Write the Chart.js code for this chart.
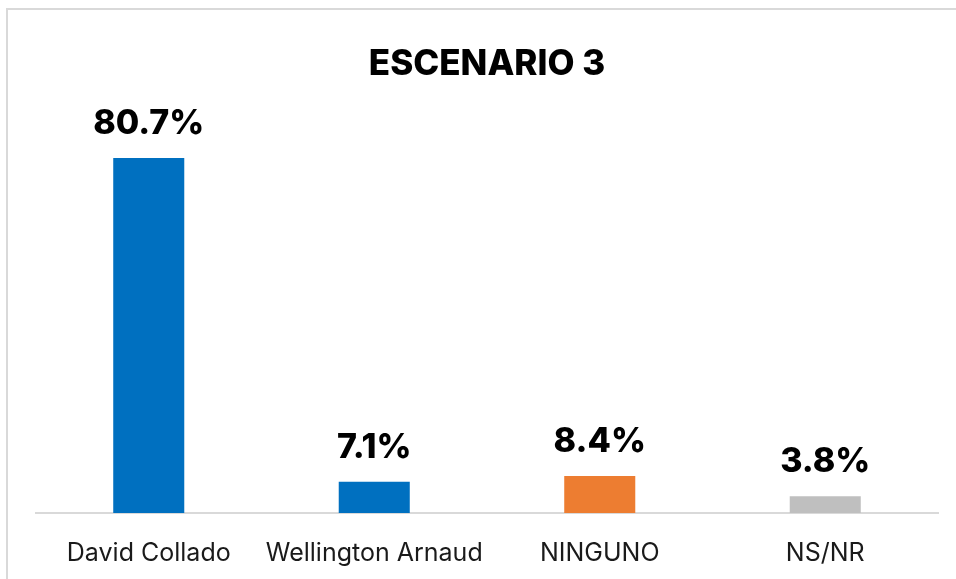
<!DOCTYPE html>
<html>
<head>
<meta charset="utf-8">
<script src="https://cdn.jsdelivr.net/npm/chart.js@4"></script>
<style>
  html, body { margin: 0; padding: 0; background: #fff; }
  #wrap { position: relative; width: 956px; height: 579px; overflow: hidden; }
  #frame {
    position: absolute; left: 6px; top: 8px; width: 1000px; height: 1000px;
    border: 2px solid #d9d9d9; box-sizing: border-box;
  }
  #chart { position: absolute; left: 0; top: 0; }
</style>
</head>
<body>
<div id="wrap">
  <div id="frame"></div>
  <canvas id="chart" width="956" height="579"></canvas>
</div>
<script>
// Escenario 3 — bar chart
const chartTitle = 'ESCENARIO 3';
const categories = ['David Collado', 'Wellington Arnaud', 'NINGUNO', 'NS/NR'];
const values = [80.7, 7.1, 8.4, 3.8];
const barColors = ['#0070c0', '#0070c0', '#ed7d31', '#bfbfbf'];

const FONT = "Inter, 'Noto Sans', sans-serif";

// title and value labels drawn on top of the bars
const labelPlugin = {
  id: 'labels',
  afterDatasetsDraw(chart) {
    const ctx = chart.ctx;
    const area = chart.chartArea;
    ctx.save();
    ctx.fillStyle = '#000';
    ctx.textAlign = 'center';
    ctx.textBaseline = 'alphabetic';
    ctx.font = `800 35px ${FONT}`;
    ctx.fillText(chartTitle, (area.left + area.right) / 2, 75);

    ctx.font = `800 34px ${FONT}`;
    chart.getDatasetMeta(0).data.forEach((bar, i) => {
      ctx.fillText(values[i].toFixed(1) + '%', bar.x, bar.y - 24);
    });
    ctx.restore();
  }
};

new Chart(document.getElementById('chart'), {
  type: 'bar',
  data: {
    labels: categories,
    datasets: [{
      data: values,
      backgroundColor: barColors,
      borderWidth: 0,
      categoryPercentage: 1,
      barPercentage: 0.315
    }]
  },
  options: {
    responsive: false,
    animation: false,
    layout: { padding: { left: 36, right: 18, top: 117, bottom: 0 } },
    plugins: {
      legend: { display: false },
      tooltip: { enabled: false },
      title: { display: false }
    },
    scales: {
      x: {
        grid: { display: false },
        border: { color: '#d9d9d9', width: 2 },
        ticks: {
          color: '#1a1a1a',
          padding: 17,
          font: { family: FONT, size: 25 }
        },
        afterFit(scale) { scale.height = 66; }
      },
      y: {
        display: false,
        min: 0,
        max: 90
      }
    }
  },
  plugins: [labelPlugin]
});
</script>
</body>
</html>
